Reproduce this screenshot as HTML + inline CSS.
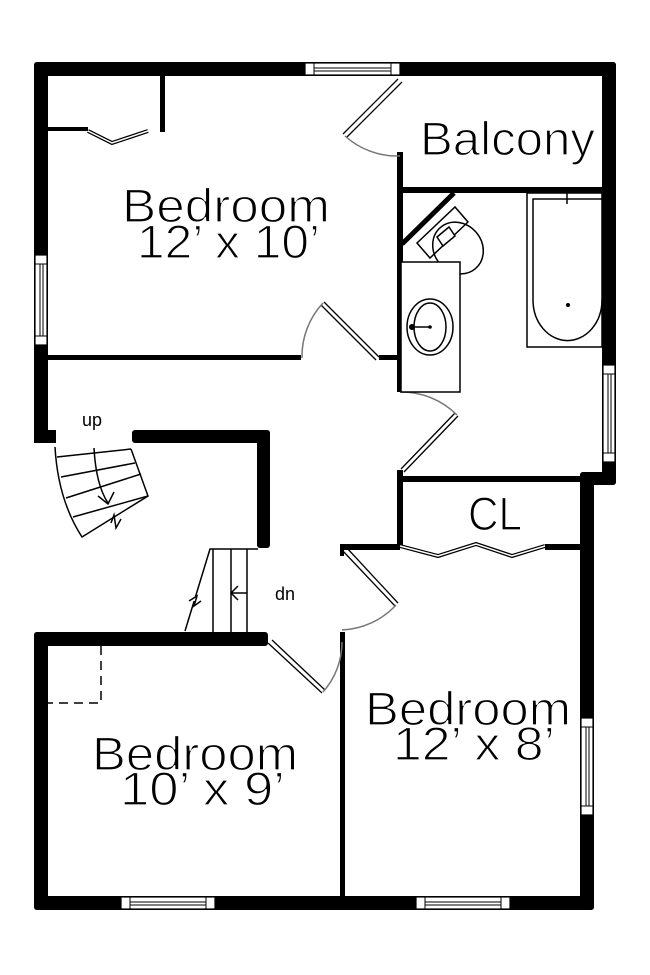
<!DOCTYPE html>
<html><head><meta charset="utf-8"><style>
html,body{margin:0;padding:0;background:#fff;}
svg{display:block;}
text{font-family:"Liberation Sans",sans-serif;fill:#000;stroke:#fff;stroke-width:1.3;}
</style></head><body>
<svg width="650" height="975" viewBox="0 0 650 975" xmlns="http://www.w3.org/2000/svg">
<g fill="#000">
  <rect x="34" y="62" width="582" height="14" rx="3"/>
  <rect x="34" y="62" width="14" height="381" rx="3"/>
  <rect x="34" y="430" width="22" height="13"/>
  <rect x="602" y="62" width="14" height="423" rx="3"/>
  <rect x="580" y="472" width="36" height="13" rx="3"/>
  <rect x="580" y="472" width="14" height="438" rx="3"/>
  <rect x="34" y="896" width="560" height="14" rx="3"/>
  <rect x="34" y="632" width="14" height="278" rx="3"/>
  <rect x="34" y="632" width="234" height="14" rx="3"/>
  <rect x="132" y="430" width="138" height="13" rx="3"/>
  <rect x="257" y="430" width="13" height="118" rx="3"/>
  <rect x="48" y="355" width="253" height="5"/>
  <rect x="379" y="355" width="22" height="5"/>
  <rect x="397" y="152" width="6" height="240"/>
  <rect x="397" y="470" width="6" height="78"/>
  <rect x="400" y="187" width="202" height="6"/>
  <rect x="400" y="476" width="181" height="6"/>
  <rect x="340" y="544" width="60" height="6"/>
  <rect x="545" y="544" width="36" height="6"/>
  <rect x="340" y="632" width="5" height="265"/>
  <rect x="340" y="544" width="4" height="12"/>
  <rect x="160" y="76" width="5" height="56"/>
  <rect x="48" y="127" width="40" height="4"/>
</g>
<g fill="#fff" stroke="#000" stroke-width="1.2">
  <rect x="305" y="63" width="95" height="12"/>
  <rect x="35" y="255" width="12" height="90"/>
  <rect x="603" y="365" width="12" height="97"/>
  <rect x="581" y="718" width="12" height="97"/>
  <rect x="121" y="897" width="94" height="12"/>
  <rect x="416" y="897" width="94" height="12"/>
</g>
<g stroke="#000" stroke-width="1" fill="none">
  <path d="M314 63V75M391 63V75M314 68H391M314 71H391"/>
  <path d="M35 264H47M35 336H47M40 264V336M43 264V336"/>
  <path d="M603 374H615M603 453H615M608 374V453M611 374V453"/>
  <path d="M581 727H593M581 806H593M586 727V806M589 727V806"/>
  <path d="M130 897V909M206 897V909M130 902H206M130 905H206"/>
  <path d="M425 897V909M501 897V909M425 902H501M425 905H501"/>
</g>
<g fill="none" stroke="#000" stroke-width="1.3">
  <path d="M398 79L343 134M402 82L347 137"/>
  <path d="M379 357L324 302M376 360L321 305"/>
  <path d="M401 469L455 413M404 472L458 416"/>
  <path d="M342 550L395 606M346 547L398 603"/>
  <path d="M268 643L322 693M272 640L325 690"/>
  <path d="M400 546L438 556L476 544L512 556L545 546" stroke-width="4"/>
  <path d="M400 546L438 556L476 544L512 556L545 546" stroke="#fff" stroke-width="1.5"/>
  <path d="M88 131L112 143L148 131" stroke-width="4"/>
  <path d="M88 131L112 143L148 131" stroke="#fff" stroke-width="1.5"/>
</g>
<g fill="none" stroke="#777" stroke-width="1.5">
  <path d="M345 136A78 78 0 0 0 400 156"/>
  <path d="M323 303A78 78 0 0 0 302 358"/>
  <path d="M457 415A78 78 0 0 0 400 392"/>
  <path d="M396 605A78 78 0 0 1 342 630"/>
  <path d="M323 692A75 75 0 0 0 342 642"/>
</g>
<g fill="none" stroke="#000" stroke-width="1.5">
  <path d="M402 244L454 193" stroke-width="5"/>
  <path d="M417 243L455 207L468 222L430 258Z" fill="#fff"/>
  <ellipse cx="458" cy="248" rx="27" ry="24" transform="rotate(50 458 248)"/>
  <path d="M437 237L449 227L455 236L443 246Z" fill="#fff"/>
  <rect x="401" y="262" width="59" height="130" fill="#fff"/>
  <ellipse cx="430" cy="327" rx="23" ry="28"/>
  <ellipse cx="430" cy="327" rx="16" ry="24"/>
  <path d="M411 327H430"/>
  <rect x="527" y="193" width="75" height="154"/>
  <path d="M533 300V199H602M602 300A34 40 0 0 1 533 300" />
  <path d="M567 193V204"/>
</g>
<g fill="#000"><circle cx="412" cy="327" r="3"/><circle cx="430" cy="327" r="1.8"/><circle cx="568" cy="305" r="2"/></g>
<g fill="none" stroke="#000" stroke-width="1.5">
  <path d="M55 447Q58 500 82 537L148 496L131 449"/>
  <path d="M57 457L131 449M61 477L135 463M66 498L141 474M73 517L148 496"/>
  <path d="M94 448Q96 485 108 503"/>
  <path d="M98 496L108 504L114 492"/>
  <path d="M111 523L114 515L116 528L121 519" fill="#fff"/>
  <path d="M185 631L210 549H258M213 549V632M231 549V632M247 549V632"/>
  <path d="M247 593H231M238 586L231 593L238 600"/>
  <path d="M189 601L197 596L194 606L201 601" fill="#fff"/>
  <path d="M101 646V703H48" stroke-dasharray="9 6"/>
</g>
<text x="420" y="155" font-size="47" textLength="175" lengthAdjust="spacingAndGlyphs">Balcony</text>
<text x="122" y="222" font-size="47" textLength="208" lengthAdjust="spacingAndGlyphs">Bedroom</text>
<text x="137" y="258" font-size="47" textLength="183" lengthAdjust="spacingAndGlyphs">12’ x 10’</text>
<text x="468" y="530" font-size="47" textLength="54" lengthAdjust="spacingAndGlyphs">CL</text>
<text x="365" y="725" font-size="47" textLength="206" lengthAdjust="spacingAndGlyphs">Bedroom</text>
<text x="393" y="760" font-size="47" textLength="162" lengthAdjust="spacingAndGlyphs">12’ x 8’</text>
<text x="92" y="770" font-size="47" textLength="206" lengthAdjust="spacingAndGlyphs">Bedroom</text>
<text x="120" y="805" font-size="47" textLength="165" lengthAdjust="spacingAndGlyphs">10’ x 9’</text>
<text x="82" y="426" font-size="18" style="stroke:none">up</text>
<text x="275" y="600" font-size="18" style="stroke:none">dn</text>
</svg>
</body></html>
